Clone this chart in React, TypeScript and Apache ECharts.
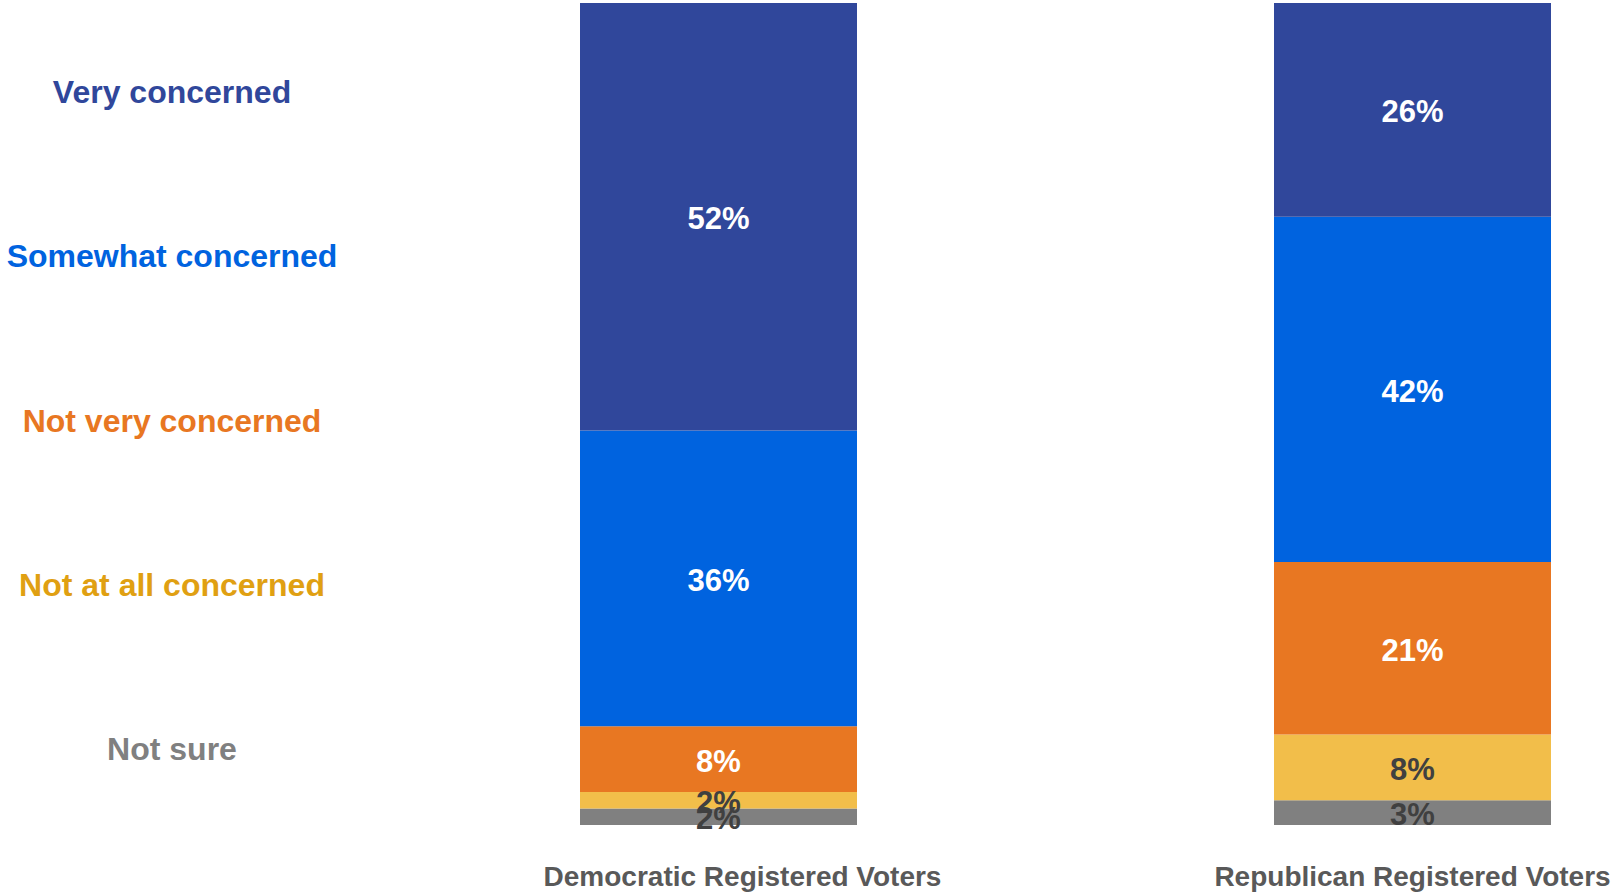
import React, { useEffect, useRef } from "react";
import * as echarts from "echarts";

const groups = ["Democratic Registered Voters", "Republican Registered Voters"];
const responseLabels = ["Very concerned", "Somewhat concerned", "Not very concerned", "Not at all concerned", "Not sure"];
const veryConcerned = [52, 26];
const somewhatConcerned = [36, 42];
const notVeryConcerned = [8, 21];
const notAtAllConcerned = [2, 8];
const notSure = [2, 3];

const FONT = '"Liberation Sans", Arial, Helvetica, sans-serif';

export default function App() {
  const ref = useRef<HTMLDivElement>(null);
  useEffect(() => {
    document.body.style.margin = "0";
    if (!ref.current) return;
    const chart = echarts.init(ref.current, null, { renderer: "svg" });
    const barColors = ["#30479B", "#0063DF", "#E87722", "#F2BE4A", "#808080"];
    const textColors = ["#30479B", "#0063DF", "#E87722", "#E0A012", "#808080"];
    const labelInk = ["#FFFFFF", "#FFFFFF", "#FFFFFF", "#404040", "#404040"];
    const seriesData = [veryConcerned, somewhatConcerned, notVeryConcerned, notAtAllConcerned, notSure];
    const order = [4, 3, 2, 1, 0];
    const series = order.map((k) => ({
      name: responseLabels[k],
      type: "bar",
      stack: "total",
      xAxisIndex: 0,
      yAxisIndex: 0,
      barWidth: 277,
      clip: false,
      data: seriesData[k],
      itemStyle: { color: barColors[k] },
      label: {
        show: true,
        position: "inside",
        offset: [0, 2],
        formatter: "{c}%",
        color: labelInk[k],
        fontFamily: FONT,
        fontWeight: "bold",
        fontSize: 31,
        textBorderWidth: 0,
      },
      emphasis: { disabled: true },
    }));
    chart.setOption({
      animation: false,
      backgroundColor: "#FFFFFF",
      grid: [
        { left: 718.5, right: 207.5, top: 3, bottom: 70 },
        { left: 200, width: 10, top: 10, height: 821 },
      ],
      xAxis: [
        {
          type: "category",
          gridIndex: 0,
          boundaryGap: false,
          data: groups,
          axisLine: { show: false },
          axisTick: { show: false },
          splitLine: { show: false },
          axisLabel: {
            margin: 37,
            interval: 0,
            fontFamily: FONT,
            fontWeight: "bold",
            fontSize: 28,
            color: "#595959",
            formatter: (v: string, i: number) => (i === 0 ? `{d|${v}}` : `{r|${v}}`),
            rich: {
              d: { padding: [0, 0, 0, 48], fontFamily: FONT, fontWeight: "bold", fontSize: 28, color: "#595959" },
              r: { fontFamily: FONT, fontWeight: "bold", fontSize: 28, color: "#595959" },
            },
          },
        },
        { type: "value", gridIndex: 1, show: false },
      ],
      yAxis: [
        { type: "value", gridIndex: 0, min: 0, max: 100, show: false },
        {
          type: "category",
          gridIndex: 1,
          inverse: true,
          data: responseLabels,
          axisLine: { show: false },
          axisTick: { show: false },
          splitLine: { show: false },
          axisLabel: {
            align: "center",
            margin: 28,
            fontFamily: FONT,
            fontWeight: "bold",
            fontSize: 32,
            color: (_v: string, i: number) => textColors[i],
          },
        },
      ],
      series,
    });
    return () => chart.dispose();
  }, []);
  return <div ref={ref} style={{ width: 1620, height: 895 }} />;
}
